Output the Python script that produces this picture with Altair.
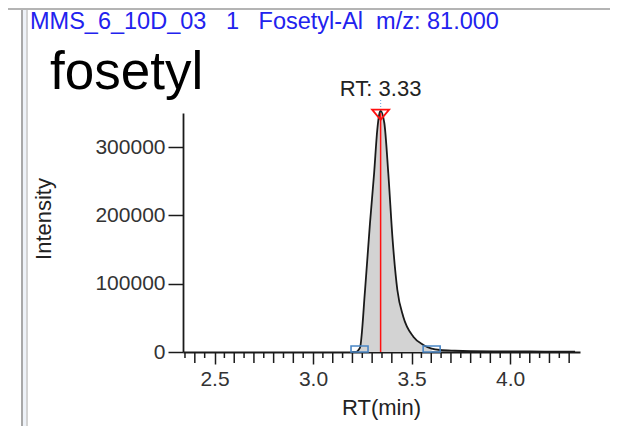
import altair as alt
import pandas as pd

# ---- data ----
rt_min = [3.200, 3.215, 3.238, 3.264, 3.289, 3.310, 3.326, 3.336, 3.343, 3.362,
          3.382, 3.404, 3.428, 3.458, 3.509, 3.560, 3.602, 3.645, 3.720, 3.800,
          3.950, 4.100, 4.250, 4.330]
intensity = [0, 0, 6000, 90800, 188500, 261700, 325100, 348000, 353000, 335000,
             261700, 164000, 90800, 51700, 22400, 10300, 5000, 2900, 1800, 1200,
             900, 700, 600, 500]
peak_rt = [3.343]
peak_top = [350000]
apex_marker = [347500]
boundary_rt = [3.236, 3.602]
boundary_int = [0, 0]
rt_label = ["RT: 3.33"]
title_text = "MMS_6_10D_03\u00a0\u00a0\u00a01\u00a0\u00a0\u00a0Fosetyl-Al\u00a0\u00a0m/z: 81.000"
big_label = "fosetyl"
x_title = "RT(min)"
y_title = "Intensity"
x_major = [2.5, 3.0, 3.5, 4.0]
x_mid = [2.4, 2.6, 2.7, 2.8, 2.9, 3.1, 3.2, 3.3, 3.4, 3.6, 3.7, 3.8, 3.9, 4.1, 4.2, 4.3]
x_minor = [2.35, 2.45, 2.55, 2.65, 2.75, 2.85, 2.95, 3.05, 3.15, 3.25, 3.35, 3.45,
           3.55, 3.65, 3.75, 3.85, 3.95, 4.05, 4.15, 4.25]
y_ticks = [0, 50000, 100000, 150000, 200000, 250000, 300000, 350000]

FONT = "Liberation Sans"
W, H = 397, 239
AX = "#1a1a1a"

trace = pd.DataFrame({"rt": rt_min, "intensity": intensity})
integ = trace[(trace.rt >= 3.215) & (trace.rt <= 3.602)]
peak = pd.DataFrame({"rt": peak_rt, "intensity": [0], "top": peak_top,
                     "apex": apex_marker, "label": rt_label})
bounds = pd.DataFrame({"rt": boundary_rt, "intensity": boundary_int})
one = pd.DataFrame({"a": [0]})

xscale = alt.Scale(domain=[2.34, 4.355], nice=False, zero=False)
yscale = alt.Scale(domain=[0, 350000], nice=False)

xaxis = alt.Axis(
    title=None, values=x_major, format=".1f",
    tickSize=12, labelPadding=4, labelOverlap=False, labelFlush=False, grid=False,
    domainColor=AX, domainWidth=1.8, tickColor=AX, tickWidth=1.5,
    labelFont=FONT, labelFontSize=21, labelColor="#333333",
)
yaxis = alt.Axis(
    title=None, values=y_ticks,
    labelExpr="datum.value % 100000 === 0 ? format(datum.value, 'd') : ''",
    tickSize={"condition": {"test": "datum.value % 100000 === 0", "value": 15}, "value": 10},
    labelPadding=3, labelOverlap=False, labelFlush=False, grid=False,
    domainColor=AX, domainWidth=1.8, tickColor=AX, tickWidth=1.5,
    labelFont=FONT, labelFontSize=21, labelColor="#333333",
)

area = alt.Chart(integ).mark_area(color="#d3d3d3", interpolate="monotone").encode(
    x=alt.X("rt:Q", scale=xscale, axis=xaxis),
    y=alt.Y("intensity:Q", scale=yscale, axis=yaxis),
)
line = alt.Chart(trace).mark_line(color="#1a1a1a", strokeWidth=1.8,
                                  interpolate="monotone").encode(
    x="rt:Q", y="intensity:Q")

mid_ticks = alt.Chart(pd.DataFrame({"rt": x_mid})).mark_rule(color=AX, strokeWidth=1.5).encode(
    x="rt:Q", y=alt.value(H), y2=alt.value(H + 11))
minor_ticks = alt.Chart(pd.DataFrame({"rt": x_minor})).mark_rule(color=AX, strokeWidth=1.5).encode(
    x="rt:Q", y=alt.value(H), y2=alt.value(H + 6))

red_rule = alt.Chart(peak).mark_rule(color="#ff1010", strokeWidth=1.5).encode(
    x="rt:Q", y="intensity:Q", y2="top:Q")
tri = alt.Chart(peak).mark_point(
    shape="M-1,-0.6L1,-0.6L0,0.6Z", filled=False, color="#ff1010",
    size=289, strokeWidth=1.8, opacity=1).encode(
    x="rt:Q", y=alt.Y("apex:Q"))
dotted = alt.Chart(peak).mark_rule(color="#7fb2e5", strokeWidth=1.2, strokeDash=[1, 2]).encode(
    x="rt:Q", y=alt.value(-13), y2=alt.value(-4))
rt_text = alt.Chart(peak).mark_text(font=FONT, fontSize=22, color="#222222",
                                    align="center", baseline="alphabetic").encode(
    x="rt:Q", y=alt.value(-17), text="label:N")
bmark = alt.Chart(bounds).mark_point(
    shape="M-1,-0.7L1,-0.7L1,0L-1,0Z", filled=False, color="#4a86c5",
    size=289, strokeWidth=1.6, opacity=1).encode(x="rt:Q", y="intensity:Q")

def txt(s, x, y, size, color="#222222", align="left", angle=0):
    kw = dict(font=FONT, fontSize=size, color=color, align=align, baseline="alphabetic", text=s)
    if angle:
        kw["angle"] = angle
        kw["baseline"] = "middle"
    return alt.Chart(one).mark_text(**kw).encode(x=alt.value(x), y=alt.value(y))

title = txt(title_text, -153, -84, 23.5, color="#2222ee")
big = txt(big_label, -133, -24, 53, color="#000000")
ytit = txt(y_title, -139, 106, 22, angle=270, align="center")
xtit = txt(x_title, W / 2, 302, 22, align="center")

frame_top = alt.Chart(one).mark_rule(color="#b4b4b4", strokeWidth=2).encode(
    x=alt.value(-175), x2=alt.value(430), y=alt.value(-104))
frame_l1 = alt.Chart(one).mark_rule(color="#a8a8a8", strokeWidth=2).encode(
    x=alt.value(-161), y=alt.value(-104), y2=alt.value(320))
frame_l2 = alt.Chart(one).mark_rule(color="#c4c4c4", strokeWidth=1.5).encode(
    x=alt.value(-156), y=alt.value(-104), y2=alt.value(320))
frame_fill = alt.Chart(one).mark_rule(color="#eef2f8", strokeWidth=3).encode(
    x=alt.value(-158.5), y=alt.value(-103), y2=alt.value(320))

chart = alt.layer(
    frame_fill, frame_l1, frame_l2, frame_top,
    area, line, mid_ticks, minor_ticks, red_rule, bmark, tri, dotted, rt_text,
    title, big, ytit, xtit,
).properties(
    width=W, height=H,
    autosize=alt.AutoSizeParams(type="none"),
    padding={"left": 175, "top": 105, "right": 30, "bottom": 74},
    background="white",
).configure_view(stroke=None)

chart.save("out.html", embed_options={"renderer": "svg", "actions": False})
